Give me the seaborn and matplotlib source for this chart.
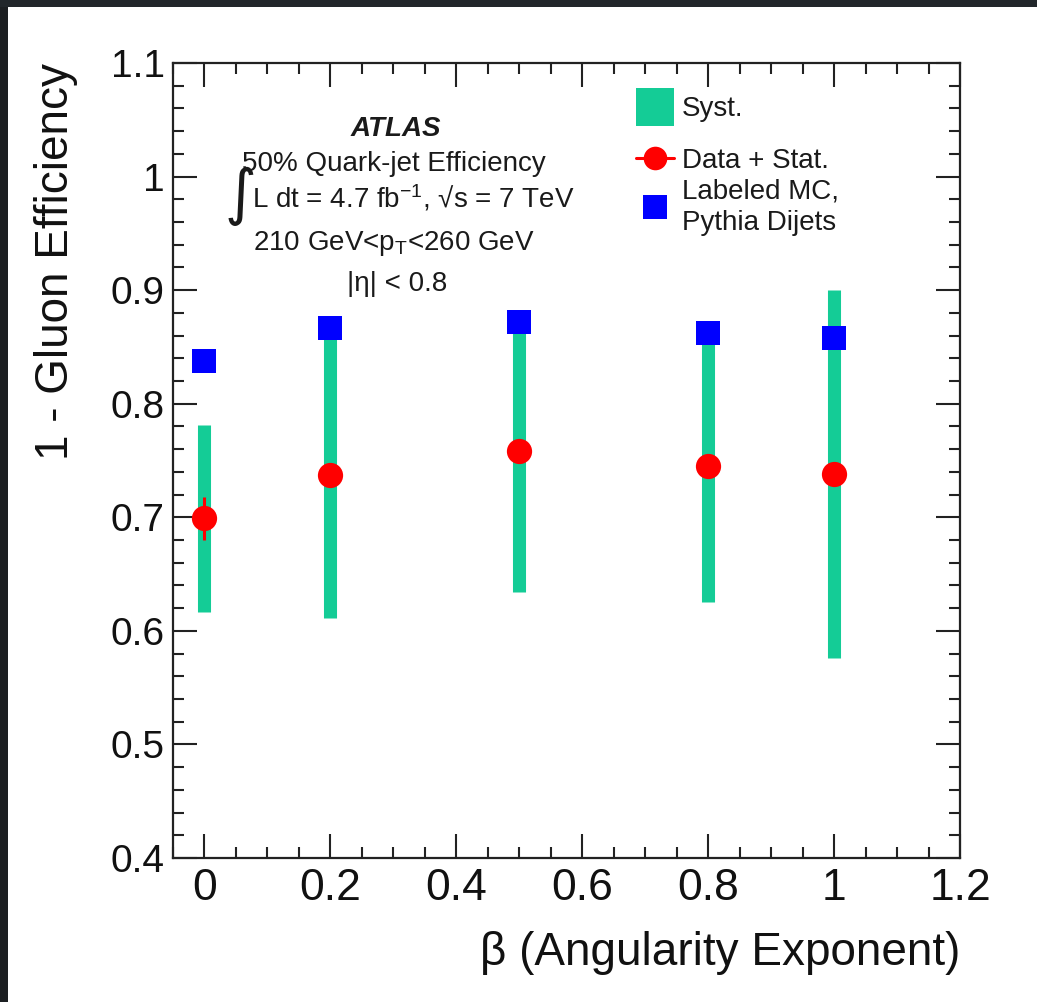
import matplotlib
matplotlib.use("Agg")
import matplotlib.pyplot as plt
from matplotlib.lines import Line2D
from matplotlib.patches import Rectangle
from matplotlib.ticker import MultipleLocator, FuncFormatter
import numpy as np
import pandas as pd
import seaborn as sns

# Angularity exponent values and measured efficiencies
beta = [0.0, 0.2, 0.5, 0.8, 1.0]
data_eff = [0.699, 0.737, 0.758, 0.745, 0.738]
stat_err = [0.019, 0.008, 0.008, 0.008, 0.008]
syst_err = [0.082, 0.126, 0.124, 0.120, 0.162]
mc_eff = [0.838, 0.867, 0.872, 0.862, 0.858]

df = pd.DataFrame({"beta": beta, "data": data_eff, "stat": stat_err,
                   "syst": syst_err, "mc": mc_eff})

sns.set_theme(style="ticks")
plt.rcParams["font.family"] = ["Liberation Sans", "DejaVu Sans"]
plt.rcParams["mathtext.fontset"] = "custom"
plt.rcParams["mathtext.rm"] = "Liberation Sans"
plt.rcParams["mathtext.it"] = "Liberation Sans:italic"
plt.rcParams["mathtext.bf"] = "Liberation Sans:bold"

GREEN = "#14cc96"
INK = "#222222"

W, H = 1037, 1002
fig = plt.figure(figsize=(W / 100, H / 100), dpi=100)
fig.patch.set_facecolor("white")


def fx(px):
    return px / W


def fy(py):
    return 1 - py / H


ax = fig.add_axes([fx(173), fy(858), fx(960) - fx(173), fy(63) - fy(858)])
ax.set_facecolor("white")

# systematic bands
ax.errorbar(df["beta"], df["data"], yerr=df["syst"], fmt="none",
            ecolor=GREEN, elinewidth=9.4, capsize=0, zorder=2)
# MC prediction
sns.scatterplot(data=df, x="beta", y="mc", marker="s", s=300, color="blue",
                linewidth=0, ax=ax, zorder=3)
# data with statistical errors
ax.errorbar(df["beta"], df["data"], yerr=df["stat"], fmt="none",
            ecolor="red", elinewidth=2.2, capsize=0, zorder=4)
sns.scatterplot(data=df, x="beta", y="data", marker="o", s=330, color="red",
                linewidth=0, ax=ax, zorder=5)

ax.set_xlim(-0.05, 1.2)
ax.set_ylim(0.4, 1.1)


def fmt(v, _):
    v = round(v, 4)
    if v == 0:
        v = 0.0
    return f"{v:g}"


ax.xaxis.set_major_locator(MultipleLocator(0.2))
ax.xaxis.set_minor_locator(MultipleLocator(0.05))
ax.yaxis.set_major_locator(MultipleLocator(0.1))
ax.yaxis.set_minor_locator(MultipleLocator(0.02))
ax.xaxis.set_major_formatter(FuncFormatter(fmt))
ax.yaxis.set_major_formatter(FuncFormatter(fmt))

ax.tick_params(which="both", direction="in", top=True, right=True,
               color=INK, width=1.5, labelcolor="#111111")
ax.tick_params(which="major", length=17)
ax.tick_params(which="minor", length=8)
ax.tick_params(axis="x", which="major", pad=7, labelsize=32)
ax.tick_params(axis="y", which="major", pad=6, labelsize=28)
for sp in ax.spines.values():
    sp.set_color(INK)
    sp.set_linewidth(1.6)

ax.set_ylabel("1 - Gluon Efficiency", fontsize=33, loc="top", color="#111111")
ax.yaxis.set_label_coords(-0.121, 1.0)
ax.set_xlabel("β (Angularity Exponent)", fontsize=33, loc="right", color="#111111")
ax.xaxis.set_label_coords(1.0, -0.092)

# annotation block
tc = "#1a1a1a"
fig.text(fx(396), fy(129), "ATLAS", fontsize=20, fontweight="bold",
         fontstyle="italic", ha="center", va="center", color=tc)
fig.text(fx(242), fy(164), "50% Quark-jet Efficiency", fontsize=20,
         ha="left", va="center", color=tc)
fig.text(fx(240), fy(196), "∫", fontsize=44, ha="center", va="center",
         color=tc, family=["DejaVu Sans"])
fig.text(fx(252), fy(198), r"L dt = 4.7 fb$^{-1}$, √s = 7 TeV", fontsize=20,
         ha="left", va="center", color=tc)
fig.text(fx(253), fy(244), r"210 GeV<p$_{\mathrm{T}}$<260 GeV", fontsize=20,
         ha="left", va="center", color=tc)
fig.text(fx(397), fy(284), "|η| < 0.8", fontsize=20, ha="center", va="center",
         color=tc)

# legend
h_syst = Line2D([], [], ls="none", marker="s", ms=27, color=GREEN, mew=0)
h_data = Line2D([], [], color="red", lw=2.2, marker="o", ms=17, mew=0)
h_mc = Line2D([], [], ls="none", marker="s", ms=17, color="blue", mew=0)

leg1 = ax.legend([h_syst, h_data], ["Syst.", "Data + Stat."],
                 loc="center left", bbox_to_anchor=(fx(636), fy(135)),
                 bbox_transform=fig.transFigure, frameon=False, fontsize=20,
                 handlelength=1.37, handletextpad=0.29, borderpad=0,
                 borderaxespad=0, labelspacing=0.92, labelcolor=tc)
ax.add_artist(leg1)
leg2 = ax.legend([h_mc], ["Labeled MC,\nPythia Dijets"],
                 loc="center left", bbox_to_anchor=(fx(636), fy(207)),
                 bbox_transform=fig.transFigure, frameon=False, fontsize=20,
                 handlelength=1.37, handletextpad=0.29, borderpad=0,
                 borderaxespad=0, labelcolor=tc)
for t in leg2.get_texts():
    t.set_linespacing(1.25)

# dark border strips along the left and top edges
fig.patches.append(Rectangle((0, 0), fx(8), 1, transform=fig.transFigure,
                             facecolor="#1c1f22", edgecolor="none", zorder=10))
fig.patches.append(Rectangle((0, fy(7)), 1, 7 / H, transform=fig.transFigure,
                             facecolor="#22272b", edgecolor="none", zorder=10))

fig.savefig("out.png", dpi=100, facecolor="white")
